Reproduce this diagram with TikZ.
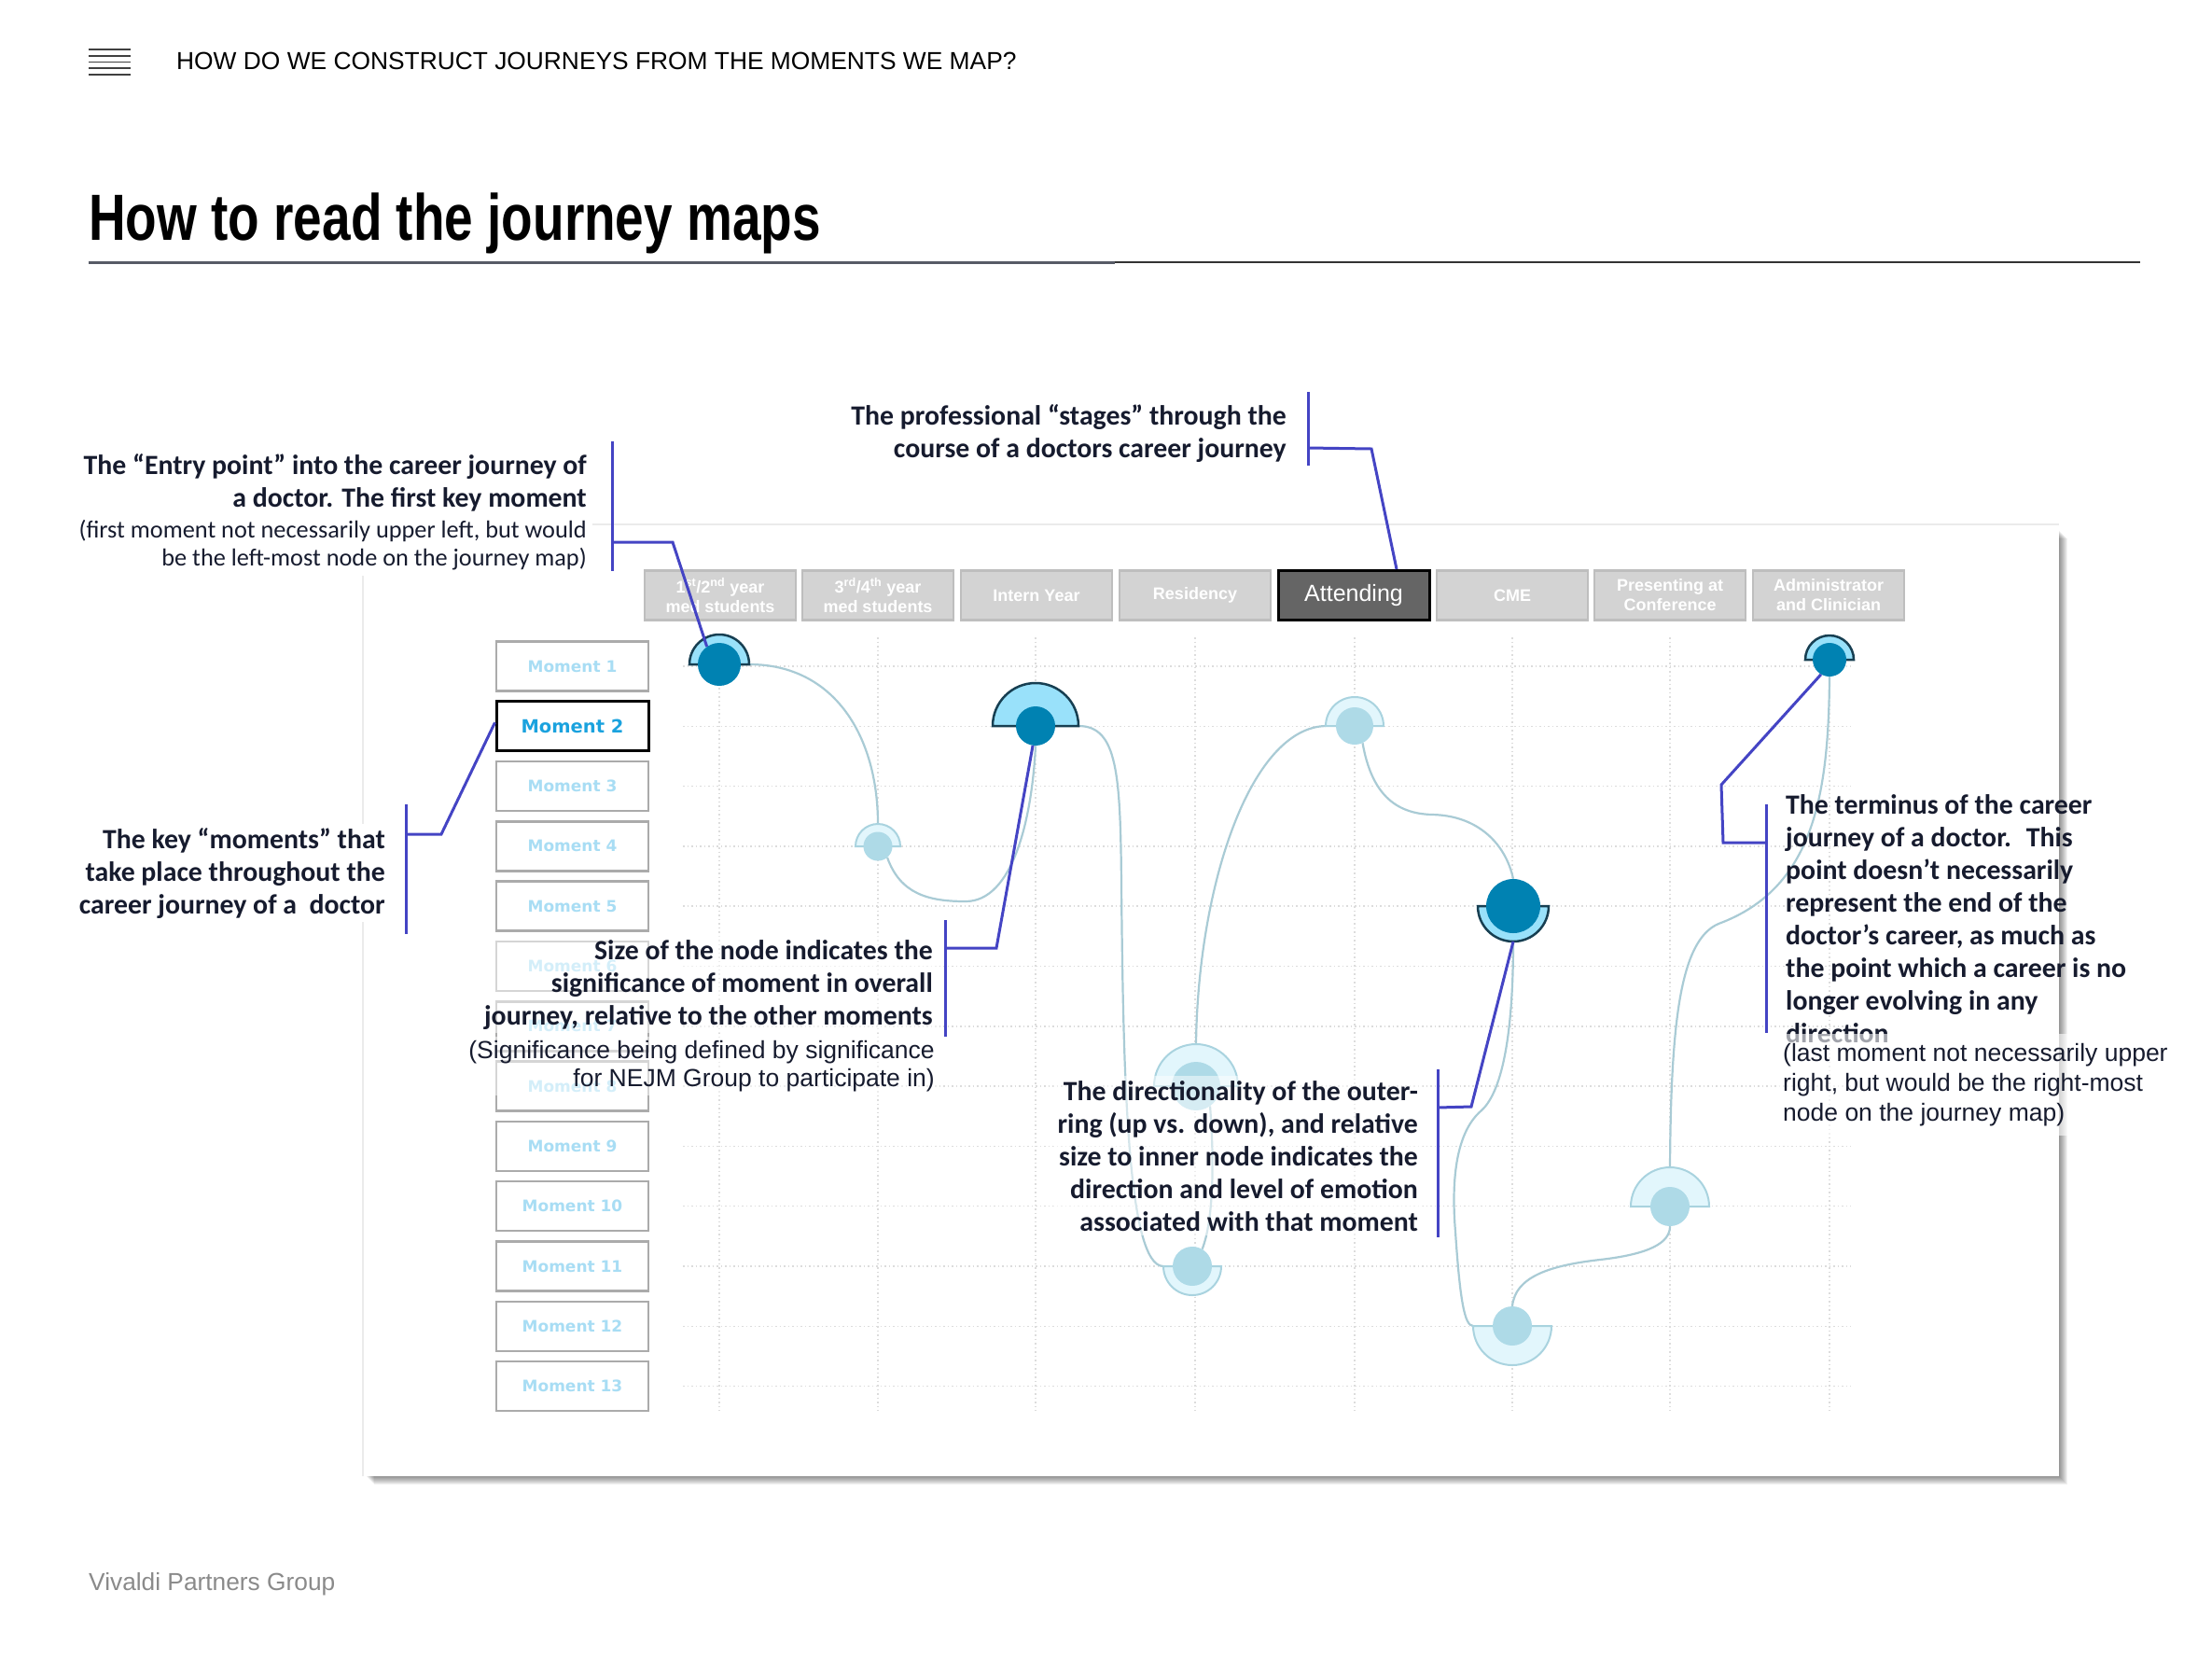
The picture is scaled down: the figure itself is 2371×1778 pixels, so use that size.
\documentclass[tikz,border=0pt]{standalone}
\usepackage{fontspec}
\setmainfont{Carlito}
\newfontfamily\arialf{Liberation Sans}
\newfontfamily\titlef[FakeStretch=0.785,UprightFont={* Bold}]{Liberation Sans}
\newfontfamily\verdf{DejaVu Sans}
\usetikzlibrary{calc}
\pgfdeclarelayer{back}
\pgfdeclarelayer{mid}
\pgfsetlayers{back,mid,main}

\definecolor{darkc}{HTML}{0082B2}
\definecolor{lblue}{HTML}{99E1FA}
\definecolor{ringline}{HTML}{173F52}
\definecolor{pale}{HTML}{E2F6FC}
\definecolor{paleline}{HTML}{A9D3DF}
\definecolor{paleinner}{HTML}{AEDAE7}
\definecolor{connc}{HTML}{A9CBD5}
\definecolor{brkc}{HTML}{4444C4}
\definecolor{momtxt}{HTML}{A8DDF4}
\definecolor{mom2}{HTML}{1AA2DE}
\definecolor{stagefill}{HTML}{D3D3D3}
\definecolor{stageline}{HTML}{BEBEBE}
\definecolor{attfill}{HTML}{656565}
\definecolor{momline}{HTML}{ABABAB}
\definecolor{gridc}{HTML}{DCDCDC}
\definecolor{rulec}{HTML}{575B66}
\definecolor{txt}{HTML}{161B2E}
\definecolor{footc}{HTML}{8A8A8A}

\tikzset{
 conn/.style={draw=connc, line width=2.2pt},
 brk/.style={draw=brkc, line width=3pt},
 ringdark/.style={fill=lblue, draw=ringline, line width=2.5pt},
 ringpale/.style={fill=pale, draw=paleline, line width=2pt},
 innerdark/.style={circle, fill=darkc, inner sep=0pt},
 innerpale/.style={circle, fill=paleinner, inner sep=0pt},
 stagebox/.style={draw=stageline, fill=stagefill, line width=2.5pt, minimum width=162pt, minimum height=53pt, inner sep=0pt, text=white, align=center, font=\arialf\bfseries\fontsize{18}{21}\selectfont},
 momentbox/.style={draw=momline, fill=white, line width=2.5pt, minimum width=163pt, minimum height=53pt, inner sep=0pt, text=momtxt, font=\verdf\bfseries\fontsize{17}{20}\selectfont},
 gridline/.style={draw=gridc, line width=1.5pt, dash pattern=on 1.5pt off 3pt},
 annot/.style={text=txt, inner sep=0pt, font=\bfseries\fontsize{29.8}{35}\selectfont},
 veil/.style={fill=white, fill opacity=0.5, text opacity=1},
}

\newcommand{\jnode}[7]{%
  \path[ring#7] (#2,#3) ++(-#5pt,0pt) arc[start angle=180, end angle=#6, radius=#5pt] -- cycle;
  \node[inner#7, minimum size={2*#4pt}] (#1) at (#2,#3) {};
  \coordinate (#1L) at ([xshift=-#5pt]#1.center);
  \coordinate (#1R) at ([xshift=#5pt]#1.center);
  \coordinate (#1T) at ([yshift=#5pt]#1.center);
  \coordinate (#1B) at ([yshift=-#5pt]#1.center);
}

\begin{document}
\begin{tikzpicture}[x=1pt,y=-1pt]
\useasboundingbox (0,0) rectangle (2371,1778);

\begin{pgfonlayer}{back}
\fill[white] (0,0) rectangle (2371,1778);
% panel with shadow
\foreach \i in {1,...,9} \fill[black, opacity=0.055] (392+\i,568+\i) rectangle (2207+\i,1582+\i);
\fill[white] (389,562) rectangle (2207,1582);
\draw[line width=1.5pt, black!8] (389,1582) -- (389,562) -- (2207,562);
% grid
\foreach \k in {0,...,12} \draw[gridline] (732,{714+64.3*\k}) -- (1984,{714+64.3*\k});
\foreach \xx in {771,941,1110,1281,1452,1621,1790,1961} \draw[gridline] (\xx,683) -- (\xx,1512);
% stages
\node[stagebox] (st1) at (772,638) {1\textsuperscript{st}/2\textsuperscript{nd} year\\med students};
\node[stagebox] (st2) at (941,638) {3\textsuperscript{rd}/4\textsuperscript{th} year\\med students};
\node[stagebox] (st3) at (1111,638) {Intern Year};
\node[stagebox] (st4) at (1281,638) {Residency};
\node[stagebox, fill=attfill, draw=black, line width=3pt, font=\arialf\fontsize{25}{28}\selectfont] (st5) at (1451,638) {Attending};
\node[stagebox] (st6) at (1621,638) {CME};
\node[stagebox] (st7) at (1790,638) {Presenting at\\Conference};
\node[stagebox] (st8) at (1960,638) {Administrator\\and Clinician};
% moments
\foreach \k in {1,3,4,5,6,7,8,9,10,11,12,13}
  \node[momentbox] (m\k) at (613.5,{714+64.3*(\k-1)}) {Moment \k};
\node[momentbox, draw=black, line width=3pt, text=mom2, font=\verdf\bfseries\fontsize{19.5}{22}\selectfont] (m2) at (613.5,778.3) {Moment 2};
\end{pgfonlayer}

% header
\foreach \yy in {53,60,66.5,73,80} \draw[line width=1.5pt, black!75] (95,\yy) -- (140,\yy);
\node[anchor=base west, inner sep=0pt, font=\arialf\fontsize{26.35}{30}\selectfont] (hdr) at (189,74) {HOW DO WE CONSTRUCT JOURNEYS FROM THE MOMENTS WE MAP?};
\node[anchor=base west, inner sep=0pt, font=\titlef\fontsize{70}{80}\selectfont] (title) at (95,257) {How to read the journey maps};
\draw[line width=3pt, rulec] (95,281) -- (1195,281);
\draw[line width=1.5pt, black!80] (1195,281) -- (2294,281);

% journey nodes
\jnode{n1}{771}{712}{23}{32}{0}{dark}
\jnode{n2}{941}{907}{15.5}{24}{0}{pale}
\jnode{n3}{1110}{778}{21}{46}{0}{dark}
\jnode{n4}{1282}{1164}{26}{45}{0}{pale}
\jnode{n5}{1278}{1357}{21}{31}{360}{pale}
\jnode{n6}{1452}{778}{20}{31}{0}{pale}
\jnode{n7}{1622}{971}{29}{38}{360}{dark}
\jnode{n8}{1621}{1421}{21}{42}{360}{pale}
\jnode{n9}{1790}{1293}{21}{42}{0}{pale}
\jnode{n10}{1961}{707}{18}{26}{0}{dark}

% connectors
\begin{pgfonlayer}{mid}
\draw[conn] (n1R) .. controls (895,712) and (941,790) .. (n2T);
\draw[conn] (n2.-50) .. controls (965,958) and (995,966) .. (1035,966) .. controls (1085,966) and (1106,880) .. (n3.south);
\draw[conn] (n3R) .. controls (1198,778) and (1201,830) .. (1202,950) .. controls (1204,1150) and (1208,1357) .. (n5L);
\draw[conn] (n4.-55) .. controls (1302,1250) and (1300,1310) .. (n5.60);
\draw[conn] (n4T) .. controls (1284,950) and (1340,780) .. (n6L);
\draw[conn] (n6.-65) .. controls (1470,850) and (1495,872) .. (1535,873) .. controls (1585,874) and (1614,905) .. (n7.north);
\draw[conn] (n7B) .. controls (1622,1100) and (1612,1168) .. (1588,1190) .. controls (1562,1212) and (1555,1260) .. (1560,1320) .. controls (1565,1395) and (1570,1421) .. (n8L);
\draw[conn] (n8.north) .. controls (1624,1368) and (1662,1356) .. (1715,1350) .. controls (1768,1344) and (1790,1332) .. (n9.south);
\draw[conn] (n9T) .. controls (1791,1100) and (1800,1008) .. (1842,990) .. controls (1945,952) and (1960,850) .. (n10.south);
\end{pgfonlayer}

% annotation texts
\node[annot, anchor=north east, align=right] (tA) at (1379,433) {The professional “stages” through the\\course of a doctors career journey};
\node[annot, anchor=north east, align=right] (tB) at (629,486) {The “Entry point” into the career journey of\\a doctor. The first key moment};
\node[anchor=north east, align=right, fill=white, inner sep=6pt, text=txt, font=\fontsize{26.3}{30}\selectfont] (tBp) at (635,551) {(first moment not necessarily upper left, but would\\be the left-most node on the journey map)};
\node[annot, anchor=north east, align=right, fill=white, inner sep=4pt] (tC) at (417,883) {The key “moments” that\\take place throughout the\\career journey of a~ doctor};
\node[annot, veil, anchor=north east, align=right, inner sep=4pt] (tD) at (1004,1003) {Size of the node indicates the\\significance of moment in overall\\journey, relative to the other moments};
\node[veil, anchor=north east, align=right, inner sep=4pt, text=txt, font=\arialf\fontsize{26.5}{30}\selectfont] (tDp) at (1006,1111) {(Significance being defined by significance\\for NEJM Group to participate in)};
\node[annot, veil, anchor=north east, align=right, inner sep=5pt] (tE) at (1525,1153) {The directionality of the outer-\\ring (up vs. down), and relative\\size to inner node indicates the\\direction and level of emotion\\associated with that moment};
\node[annot, anchor=north west, align=left] (tF) at (1914,851) {The terminus of the career\\journey of a doctor.~ This\\point doesn’t necessarily\\represent the end of the\\doctor’s career, as much as\\the point which a career is no\\longer evolving in any\\direction};
\node[veil, fill opacity=0.6, anchor=north west, align=left, inner xsep=4pt, inner ysep=10pt, text=txt, font=\arialf\fontsize{26.5}{32}\selectfont] (tFp) at (1907,1108) {(last moment not necessarily upper\\right, but would be the right-most\\node on the journey map)};

% brackets
\coordinate (bA1) at (1402,420); \coordinate (bA2) at (1402,499);
\coordinate (bA3) at (1402,480); \coordinate (bA4) at (1470,481);
\draw[brk] (bA1) -- (bA2);
\draw[brk] (bA3) -- (bA4) -- ([xshift=46pt]st5.north);
\coordinate (bB1) at (656,473); \coordinate (bB2) at (656,612);
\coordinate (bB3) at (656,581); \coordinate (bB4) at (721,581);
\draw[brk] (bB1) -- (bB2);
\draw[brk] (bB3) -- (bB4) -- (n1.125);
\coordinate (bC1) at (435,862); \coordinate (bC2) at (435,1001);
\coordinate (bC3) at (435,894); \coordinate (bC4) at (473,894);
\draw[brk] (bC1) -- (bC2);
\draw[brk] (bC3) -- (bC4) -- ([yshift=4pt]m2.west);
\coordinate (bD1) at (1013,986); \coordinate (bD2) at (1013,1111);
\coordinate (bD3) at (1013,1016); \coordinate (bD4) at (1068,1016);
\draw[brk] (bD1) -- (bD2);
\draw[brk] (bD3) -- (bD4) -- (n3.-98);
\coordinate (bE1) at (1541,1146); \coordinate (bE2) at (1541,1326);
\coordinate (bE3) at (1541,1187); \coordinate (bE4) at (1577,1186);
\draw[brk] (bE1) -- (bE2);
\draw[brk] (bE3) -- (bE4) -- (n7B);
\coordinate (bF1) at (1893,862); \coordinate (bF2) at (1893,1107);
\coordinate (bF3) at (1893,903); \coordinate (bF4) at (1847,903);
\coordinate (bF5) at (1845,841);
\draw[brk] (bF1) -- (bF2);
\draw[brk] (bF3) -- (bF4) -- (bF5) -- (n10.-120);

% footer
\node[anchor=base west, inner sep=0pt, text=footc, font=\arialf\fontsize{26.3}{30}\selectfont] (foot) at (95,1704) {Vivaldi Partners Group};
\end{tikzpicture}
\end{document}
